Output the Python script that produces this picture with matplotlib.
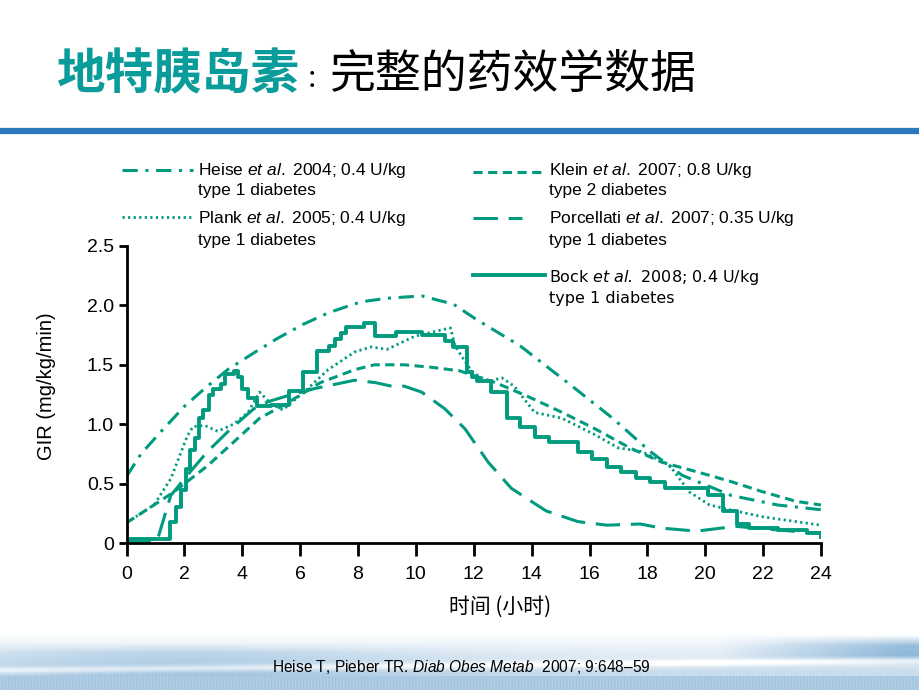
# 地特胰岛素 GIR 曲线图
import numpy as np
import matplotlib
matplotlib.use('Agg')
import matplotlib.pyplot as plt
from matplotlib.lines import Line2D

plt.rcParams['font.family'] = ['Liberation Sans', 'Noto Sans CJK SC', 'DejaVu Sans']
plt.rcParams['mathtext.fontset'] = 'custom'
plt.rcParams['mathtext.rm'] = 'Liberation Sans'
plt.rcParams['mathtext.it'] = 'Liberation Sans:italic'
plt.rcParams['mathtext.sf'] = 'DejaVu Sans:italic'

# 数据
heise_x = [0, 0.5, 1.2, 2, 2.7, 3.5, 4.4, 5.2, 6.1, 7, 8.1, 9, 10.2, 11.3, 12.1, 13.6, 14.5, 15.4, 16.8, 18.1, 19.2, 20.9, 22.5, 24]
heise_y = [0.56, 0.75, 0.94, 1.15, 1.30, 1.46, 1.60, 1.72, 1.84, 1.94, 2.03, 2.06, 2.08, 2.01, 1.88, 1.66, 1.49, 1.32, 1.05, 0.77, 0.57, 0.40, 0.32, 0.28]

klein_x = [0, 0.95, 1.64, 2.8, 3.84, 4.6, 5.5, 6.7, 7.9, 8.57, 9.6, 10.5, 11.5, 12.75, 13.9, 15.05, 16.2, 17.4, 18.5, 19.7, 20.85, 22, 23.15, 24]
klein_y = [0.17, 0.32, 0.43, 0.65, 0.88, 1.05, 1.17, 1.35, 1.46, 1.50, 1.50, 1.48, 1.45, 1.35, 1.23, 1.10, 0.96, 0.80, 0.68, 0.60, 0.52, 0.43, 0.35, 0.32]

plank_x = [0, 0.95, 1.53, 2.1, 2.3, 2.7, 3.15, 3.7, 4.2, 4.6, 5.0, 5.4, 6.27, 6.97, 7.9, 8.45, 9.0, 9.96, 11.0, 11.2, 11.35, 11.8, 12.0, 12.5, 12.97, 13.4, 14.1, 15.05, 16.2, 17.0, 17.8, 18.75, 19.45, 20.15, 20.85, 22.0, 24]
plank_y = [0.17, 0.32, 0.54, 0.90, 0.98, 0.99, 0.94, 1.00, 1.10, 1.27, 1.17, 1.12, 1.30, 1.46, 1.61, 1.65, 1.63, 1.74, 1.80, 1.81, 1.66, 1.49, 1.43, 1.36, 1.39, 1.32, 1.10, 1.05, 0.91, 0.80, 0.77, 0.66, 0.43, 0.32, 0.28, 0.22, 0.15]

porc_x = [0, 1.06, 1.53, 2.1, 2.8, 3.6, 4.4, 4.9, 5.57, 6.5, 7.88, 8.6, 9.16, 9.6, 10.2, 11.0, 11.7, 12.5, 13.3, 14.5, 15.6, 16.6, 17.75, 18.5, 19.7, 21.05, 22.5, 24]
porc_y = [0.02, 0.02, 0.40, 0.57, 0.77, 0.96, 1.13, 1.19, 1.24, 1.30, 1.37, 1.35, 1.32, 1.32, 1.27, 1.13, 0.96, 0.68, 0.46, 0.27, 0.18, 0.15, 0.16, 0.125, 0.10, 0.14, 0.11, 0.08]

bock_x = [0, 1.5, 1.7, 1.9, 2.05, 2.2, 2.35, 2.5, 2.65, 2.85, 3.0, 3.25, 3.4, 3.7, 3.85, 4.0, 4.2, 4.5, 5.0, 5.6, 6.1, 6.6, 7.0, 7.2, 7.4, 7.6, 8.2, 8.6, 9.3, 10.2, 11.0, 11.3, 11.75, 11.95, 12.1, 12.6, 13.15, 13.6, 14.1, 14.6, 15.6, 16.1, 16.6, 17.1, 17.6, 18.1, 18.6, 20.1, 20.6, 21.1, 21.5, 22.5, 23.5, 24]
bock_y = [0.03, 0.18, 0.30, 0.45, 0.62, 0.78, 0.88, 1.05, 1.12, 1.25, 1.30, 1.34, 1.42, 1.45, 1.40, 1.30, 1.22, 1.15, 1.16, 1.28, 1.44, 1.62, 1.66, 1.72, 1.77, 1.82, 1.85, 1.74, 1.78, 1.75, 1.70, 1.65, 1.44, 1.40, 1.36, 1.27, 1.05, 0.98, 0.89, 0.85, 0.77, 0.71, 0.64, 0.60, 0.55, 0.51, 0.46, 0.40, 0.27, 0.16, 0.13, 0.11, 0.08, 0.05]

x_ticks = list(range(0, 25, 2))
y_ticks = [0, 0.5, 1.0, 1.5, 2.0, 2.5]
y_ticklabels = ['0', '0.5', '1.0', '1.5', '2.0', '2.5']

teal = '#009B7E'
W, H = 920, 690

def fx(x):
    return x / W

def fy(y):
    return 1 - y / H

fig = plt.figure(figsize=(9.2, 6.9), dpi=100)

# 底部装饰背景 (y 620-690)
bh = 70
bg = fig.add_axes([0, 0, 1, bh / H])
c = np.linspace(0, 1, W)[None, :]
r = np.arange(bh)[:, None].astype(float)
shade = np.clip((r - 12) / 40, 0, 1) * 0.35
hill = np.exp(-((c - 0.2) / 0.25) ** 2) * np.clip((r - 22) / 10, 0, 1) * 0.25
shade = shade + hill
right = np.clip((c - 0.78) / 0.2, 0, 1) * np.clip((r - 15) / 10, 0, 1) * np.clip((45 - r) / 10, 0, 1) * 0.55
shade = shade + right
swoosh_c = 50 - 10 * c
shade = shade - 0.35 * np.exp(-((r - swoosh_c) / 3.5) ** 2)
shade = np.where(r > 55, 0.5 + 0.1 * np.sin(c * 900) ** 2, shade)
shade = np.clip(shade, 0, 1)
base = np.array([0.40, 0.62, 0.80])
img = np.ones((bh, W, 3)) * (1 - shade[..., None]) + base * shade[..., None]
bg.imshow(img, aspect='auto', extent=[0, 1, 0, 1], origin='upper', interpolation='bilinear')
bg.axis('off')

# 标题
fig.text(fx(57), fy(75), '地特胰岛素', fontsize=35, fontweight='bold', color='#0A9B9B',
         family='Noto Sans CJK SC', va='center')
fig.text(fx(306), fy(80), '：', fontsize=18, color='black', family='Noto Sans CJK SC', va='center')
fig.text(fx(330), fy(75), '完整的药效学数据', fontsize=33, color='black',
         family='Noto Sans CJK SC', va='center')
fig.add_artist(Line2D([0, 1], [fy(131), fy(131)], transform=fig.transFigure, color='#2A78BE', lw=4.5))

# 主图
ax = fig.add_axes([fx(126.5), fy(543), 694.5 / W, 297 / H])
lw = 2.2
st_heise = (0, (5, 2.5, 1, 2.5))
st_klein = (0, (3, 1.8))
st_plank = (0, (0.8, 1.2))
st_porc = (0, (8, 3.5))
ax.plot(heise_x, heise_y, color=teal, lw=lw, linestyle=st_heise)
ax.plot(klein_x, klein_y, color=teal, lw=lw, linestyle=st_klein)
ax.plot(plank_x, plank_y, color=teal, lw=2.0, linestyle=st_plank)
ax.plot(porc_x, porc_y, color=teal, lw=lw, linestyle=st_porc)
ax.plot(bock_x, bock_y, color=teal, lw=2.8, drawstyle='steps-post')

ax.set_xlim(0, 24)
ax.set_ylim(0, 2.5)
ax.set_xticks(x_ticks)
ax.set_yticks(y_ticks)
ax.set_yticklabels(y_ticklabels)
for s in ['top', 'right']:
    ax.spines[s].set_visible(False)
for s in ['left', 'bottom']:
    ax.spines[s].set_linewidth(2)
ax.tick_params(direction='out', width=2, labelsize=14)
ax.tick_params(axis='x', length=9.5, pad=7)
ax.tick_params(axis='y', length=6, pad=3)
fig.text(fx(47), fy(386), 'GIR (mg/kg/min)', rotation=90, fontsize=14.5, va='center', ha='center')
fig.text(fx(500), fy(607), '时间 (小时)', fontsize=15, va='center', ha='center', family='Noto Sans CJK SC')

# 图例 (手动放置)
leg = [
    (122, 193, 170, st_heise, 2.2, 'Heise $\\mathit{et\\ al.}$ 2004; 0.4 U/kg', 'type 1 diabetes', 198, 170, 190, 'Liberation Sans'),
    (122, 193, 217, st_plank, 2.0, 'Plank $\\mathit{et\\ al.}$ 2005; 0.4 U/kg', 'type 1 diabetes', 198, 218, 241, 'Liberation Sans'),
    (473, 545, 172, st_klein, 2.2, 'Klein $\\mathit{et\\ al.}$ 2007; 0.8 U/kg', 'type 2 diabetes', 549, 170, 190, 'Liberation Sans'),
    (473, 522, 218, st_porc, 2.2, 'Porcellati $\\mathit{et\\ al.}$ 2007; 0.35 U/kg', 'type 1 diabetes', 549, 218, 241, 'Liberation Sans'),
    (473, 545, 275, '-', 2.8, 'Bock $\\mathsf{et\\ al.}$ 2008; 0.4 U/kg', 'type 1 diabetes', 549, 277, 298, 'DejaVu Sans'),
]
for x0, x1, ly, ls, w, t1, t2, tx, ty1, ty2, fam in leg:
    fig.add_artist(Line2D([fx(x0), fx(x1)], [fy(ly), fy(ly)], transform=fig.transFigure,
                          color=teal, lw=w, linestyle=ls))
    size = 11.5 if fam == 'DejaVu Sans' else 12.5
    fig.text(fx(tx), fy(ty1), t1, fontsize=size, va='center', family=fam)
    fig.text(fx(tx), fy(ty2), t2, fontsize=size, va='center', family=fam)

# 文献
fig.text(fx(272), fy(667), 'Heise T, Pieber TR. $\\mathit{Diab\\ Obes\\ Metab}$  2007; 9:648–59',
         fontsize=11.2, va='center')

fig.savefig('out.png', dpi=100)
